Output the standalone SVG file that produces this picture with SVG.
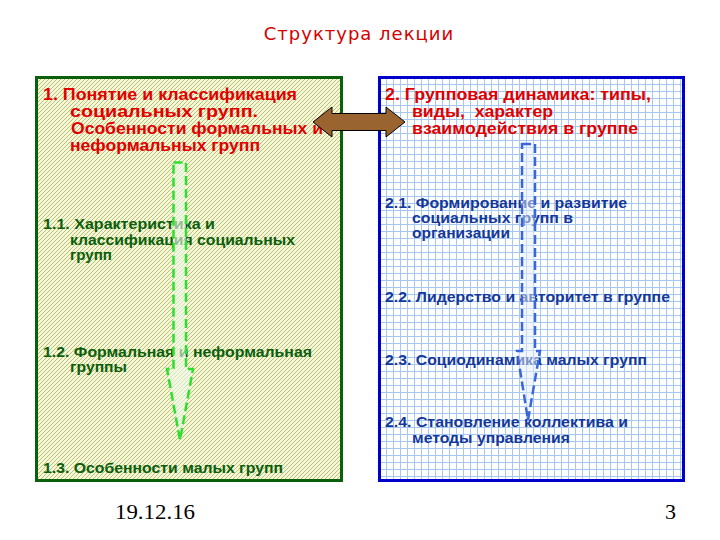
<svg xmlns="http://www.w3.org/2000/svg" width="720" height="540" viewBox="0 0 720 540">
<defs>
<pattern id="hatch" width="4" height="4" patternUnits="userSpaceOnUse">
<rect width="4" height="4" fill="#f6f6dc"/>
<path d="M-1,1 L1,-1 M0,4 L4,0 M3,5 L5,3" stroke="#b9c46a" stroke-width="1"/>
</pattern>
<pattern id="grid" width="7" height="7" patternUnits="userSpaceOnUse" x="379" y="77">
<rect width="7" height="7" fill="#ffffff"/>
<path d="M0.5,0 V7 M0,0.5 H7" stroke="#a6c8f0" stroke-width="1"/>
</pattern>
<style>
.t{font-family:"Liberation Sans",Arial,sans-serif;font-weight:bold}
.h{font-size:16px;fill:#e00000}
.g{font-size:14.5px;fill:#0b5e0b}
.b{font-size:14.5px;fill:#14389a}
.foot{font-family:"Liberation Serif","Times New Roman",serif;font-size:22px;fill:#000}
</style>
</defs>
<rect width="720" height="540" fill="#ffffff"/>
<text x="359" y="40" text-anchor="middle" font-family="DejaVu Sans,sans-serif" font-size="18" fill="#d40000" letter-spacing="1">Структура лекции</text>

<g id="box1">
<rect x="36.5" y="77.5" width="305" height="403" fill="url(#hatch)" stroke="#0b610b" stroke-width="3"/>
<text class="t h" x="43" y="100" textLength="254" lengthAdjust="spacingAndGlyphs">1. Понятие и классификация</text>
<text class="t h" x="70" y="117" textLength="188" lengthAdjust="spacingAndGlyphs">социальных групп.</text>
<text class="t h" x="71" y="134" textLength="252" lengthAdjust="spacingAndGlyphs">Особенности формальных и</text>
<text class="t h" x="70" y="151" textLength="190" lengthAdjust="spacingAndGlyphs">неформальных групп</text>
<text class="t g" x="43" y="229" textLength="172" lengthAdjust="spacingAndGlyphs">1.1. Характеристика и</text>
<text class="t g" x="70" y="245" textLength="225" lengthAdjust="spacingAndGlyphs">классификация социальных</text>
<text class="t g" x="70" y="260" textLength="42" lengthAdjust="spacingAndGlyphs">групп</text>
<text class="t g" x="43" y="357" textLength="269" lengthAdjust="spacingAndGlyphs">1.2. Формальная и неформальная</text>
<text class="t g" x="70" y="372" textLength="57" lengthAdjust="spacingAndGlyphs">группы</text>
<text class="t g" x="43" y="473" textLength="240" lengthAdjust="spacingAndGlyphs">1.3. Особенности малых групп</text>
</g>

<g id="box2">
<rect x="379.5" y="77.5" width="304" height="403" fill="url(#grid)" stroke="#0000cc" stroke-width="3"/>
<text class="t h" x="385" y="100" textLength="266" lengthAdjust="spacingAndGlyphs">2. Групповая динамика: типы,</text>
<text class="t h" x="412" y="117" textLength="141" lengthAdjust="spacingAndGlyphs" xml:space="preserve">виды,  характер</text>
<text class="t h" x="412" y="134" textLength="226" lengthAdjust="spacingAndGlyphs">взаимодействия в группе</text>
<text class="t b" x="385" y="208" textLength="242" lengthAdjust="spacingAndGlyphs">2.1. Формирование и развитие</text>
<text class="t b" x="412" y="223" textLength="161" lengthAdjust="spacingAndGlyphs">социальных групп в</text>
<text class="t b" x="412" y="238" textLength="98" lengthAdjust="spacingAndGlyphs">организации</text>
<text class="t b" x="385" y="302" textLength="285" lengthAdjust="spacingAndGlyphs">2.2. Лидерство и авторитет в группе</text>
<text class="t b" x="385" y="365" textLength="262" lengthAdjust="spacingAndGlyphs">2.3. Социодинамика малых групп</text>
<text class="t b" x="385" y="427" textLength="243" lengthAdjust="spacingAndGlyphs">2.4. Становление коллектива и</text>
<text class="t b" x="412" y="443" textLength="158" lengthAdjust="spacingAndGlyphs">методы управления</text>
</g>

<g id="connectors">
<path d="M173.5,162.5 H186 V369 H193 L180,440 L167,369 H173.5 Z" fill="#eefaea" fill-opacity="0.6" stroke="#2ee02e" stroke-width="2.5" stroke-dasharray="9,4"/>
<path d="M522,144 H535 V351 H540 L528,420 L517,351 H522 Z" fill="#e4ecfa" fill-opacity="0.5" stroke="#3a66dc" stroke-width="2.5" stroke-dasharray="9,4"/>
<path d="M313,122 L332,107 V113.5 H386 V107 L405,122 L386,137 V130.5 H332 V137 Z" fill="#9a6430" stroke="#000" stroke-width="1"/>
</g>

<text class="foot" x="115" y="519" textLength="80" lengthAdjust="spacingAndGlyphs">19.12.16</text>
<text class="foot" x="665" y="519">3</text>
</svg>
